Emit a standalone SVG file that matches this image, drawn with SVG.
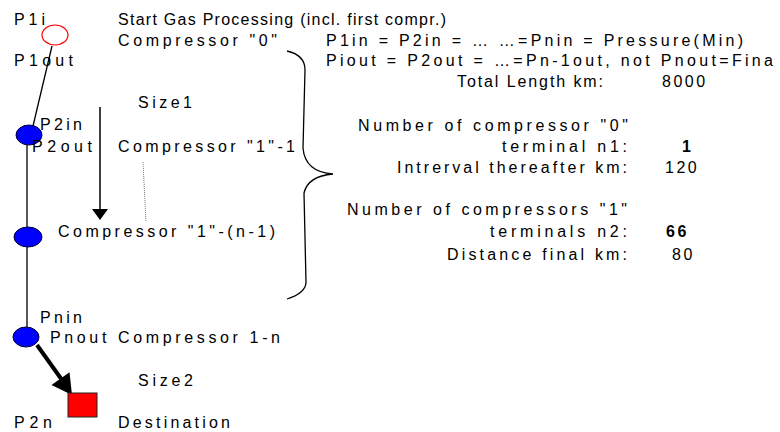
<svg xmlns="http://www.w3.org/2000/svg" width="780" height="432" viewBox="0 0 780 432">
<style>
text{font-family:"Liberation Sans",Arial,sans-serif;font-size:16px;fill:#000}
.b{font-weight:bold}
.n{letter-spacing:2.5px}
.blue{fill:#0000ff;stroke:#000033;stroke-width:1}
.ln{stroke:#000;stroke-width:1.3;fill:none}
</style>
<rect width="780" height="432" fill="#fff"/>
<g id="connectors">
<line class="ln" x1="52" y1="46" x2="33" y2="126"/>
<line class="ln" x1="27" y1="145" x2="27" y2="227"/>
<line class="ln" x1="27" y1="247" x2="27" y2="327"/>
<line x1="37" y1="345" x2="62" y2="380" stroke="#000" stroke-width="4"/>
<polygon points="51.5,384.9 69.5,372.3 72,395" fill="#000"/>
<line x1="100" y1="107" x2="100" y2="210" stroke="#000" stroke-width="1.5"/>
<polygon points="92,209 108,209 100,220" fill="#000"/>
<line x1="143" y1="162" x2="146" y2="222" stroke="#777" stroke-width="1" stroke-dasharray="1 1"/>
</g>
<g id="brace">
<path class="ln" d="M287,51 Q305,55 305,70 L303,148 Q305,172 333,174 Q308,176 304,193 L306,282 Q306,293 287,299"/>
</g>
<g id="node-start">
<ellipse cx="55" cy="35" rx="13" ry="10" fill="#fff" stroke="#ff0000" stroke-width="1.2"/>
<text x="14" y="25" textLength="31">P1i</text>
<text x="14" y="66" textLength="59">P1out</text>
<text x="118" y="25" textLength="328">Start Gas Processing (incl. first compr.)</text>
<text x="118" y="46" textLength="159">Compressor "0"</text>
</g>
<g id="node-c1">
<ellipse class="blue" cx="29" cy="135" rx="13" ry="10"/>
<text x="40" y="130" textLength="42">P2in</text>
<text x="32" y="152" textLength="60">P2out</text>
<text x="118" y="152" textLength="177">Compressor "1"-1</text>
</g>
<g id="node-cn1">
<ellipse class="blue" cx="28" cy="237" rx="14" ry="10"/>
<text x="58" y="237" textLength="217">Compressor "1"-(n-1)</text>
</g>
<g id="node-cn">
<ellipse class="blue" cx="26" cy="337" rx="13" ry="10"/>
<text x="40" y="323" textLength="42">Pnin</text>
<text x="50" y="343" textLength="230">Pnout Compressor 1-n</text>
</g>
<g id="node-dest">
<rect x="68" y="393" width="29" height="24" fill="#ff0000" stroke="#222" stroke-width="1"/>
<text x="14" y="428" textLength="38">P2n</text>
<text x="118" y="428" textLength="112">Destination</text>
</g>
<g id="labels">
<text x="138" y="108" textLength="54">Size1</text>
<text x="138" y="386" textLength="55">Size2</text>
<text x="326" y="46" textLength="417">P1in = P2in = … …=Pnin = Pressure(Min)</text>
<text x="326" y="66" textLength="447">Piout = P2out = …=Pn-1out, not Pnout=Fina</text>
<text x="457" y="87" textLength="146">Total Length km:</text>
<text class="n" x="662" y="87">8000</text>
<text x="358" y="131" textLength="270">Number of compressor "0"</text>
<text x="502" y="152" textLength="125">terminal  n1:</text>
<text class="b" x="682" y="152">1</text>
<text x="397" y="173" textLength="230">Intrerval thereafter km:</text>
<text class="n" x="665" y="173">120</text>
<text x="347" y="215" textLength="280">Number of compressors "1"</text>
<text x="490" y="237" textLength="137">terminals  n2:</text>
<text class="b n" x="666" y="237">66</text>
<text x="447" y="260" textLength="180">Distance final km:</text>
<text class="n" x="672" y="260">80</text>
</g>
</svg>
